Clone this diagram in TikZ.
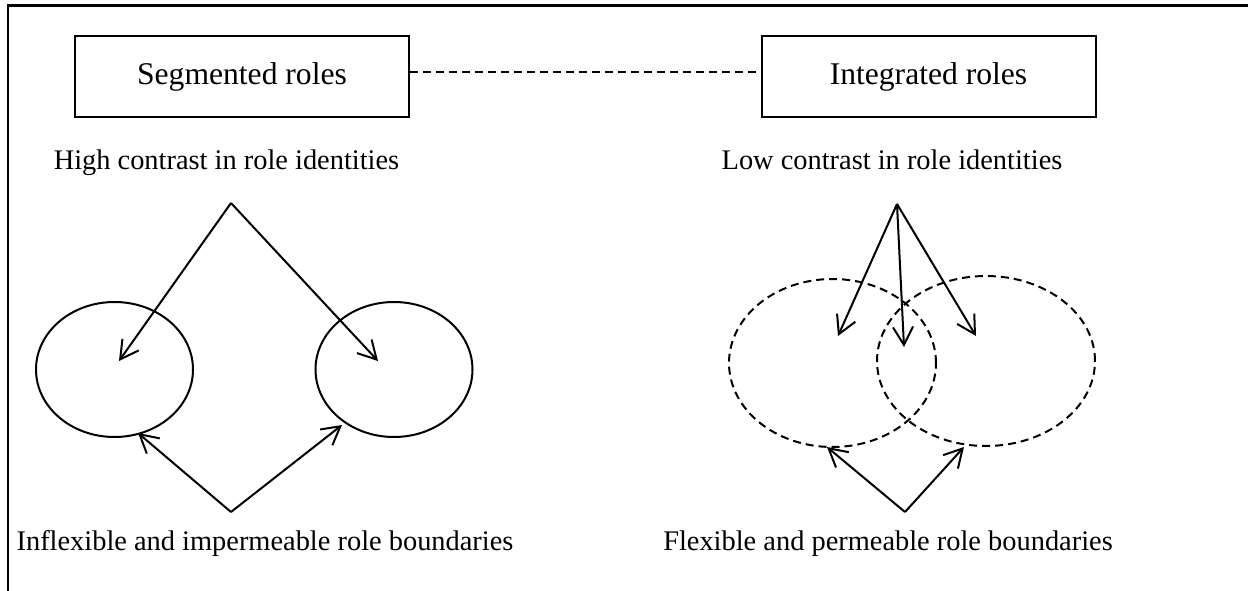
\documentclass[tikz,border=0pt]{standalone}
\usepackage{fontspec}
\setmainfont{Liberation Serif}
\usetikzlibrary{arrows.meta,shapes.geometric}
\begin{document}
\begin{tikzpicture}[x=1pt,y=-1pt,line width=2pt,
  boxtxt/.style={font=\fontsize{31.6}{38}\selectfont},
  captxt/.style={font=\fontsize{28.4}{34}\selectfont},
  rolebox/.style={draw, rectangle, minimum width=334pt, minimum height=81pt, inner sep=0pt, boxtxt},
  caption/.style={anchor=base, inner sep=0pt, captxt},
  solidring/.style={draw, ellipse, inner sep=0pt},
  dashring/.style={draw, ellipse, inner sep=0pt, dash pattern=on 8pt off 5pt},
  link/.style={dash pattern=on 8pt off 5pt},
  pointer/.style={-{Straight Barb[length=18pt,width=20pt]}}]
\useasboundingbox (0,0) rectangle (1248,591);

% open frame: top and left edges only
\draw[line width=3pt] (6.5,5.5) -- (1248,5.5);
\draw (7.5,5.5) -- (7.5,591);

% the two role types
\node[rolebox] (seg) at (242,76.5) {Segmented roles};
\node[rolebox] (int) at (928.5,76.5) {Integrated roles};
\draw[link] ([yshift=4.5pt]seg.east) -- ([yshift=4.5pt]int.west);

% captions
\node[caption] (segid) at (226.5,170) {High contrast in role identities};
\node[caption] (intid) at (892,170) {Low contrast in role identities};
\node[caption] (segbd) at (265,550) {Inflexible and impermeable role boundaries};
\node[caption] (intbd) at (888,550) {Flexible and permeable role boundaries};

% segmented: two separate roles
\node[solidring, minimum width=157pt, minimum height=135pt] (sa) at (114.5,369.5) {};
\node[solidring, minimum width=157pt, minimum height=135pt] (sb) at (394,369.5) {};
\coordinate (stop) at (231,203);
\coordinate (sta) at (119,361);
\coordinate (stb) at (378,361);
\coordinate (sbot) at (231,512);
\coordinate (sba) at (138,433);
\coordinate (sbb) at (342,425);
\draw[pointer] (stop) -- (sta);
\draw[pointer] (stop) -- (stb);
\draw[pointer] (sbot) -- (sba);
\draw[pointer] (sbot) -- (sbb);

% integrated: two overlapping roles
\node[dashring, minimum width=207pt, minimum height=168pt] (ia) at (832.5,363) {};
\node[dashring, minimum width=218pt, minimum height=170pt] (ib) at (986,361) {};
\coordinate (itop) at (897,204);
\coordinate (ita) at (838,336);
\coordinate (itm) at (904,347);
\coordinate (itb) at (976,336);
\coordinate (ibot) at (905,512);
\coordinate (iba) at (827,447);
\coordinate (ibb) at (964,447);
\draw[pointer] (itop) -- (ita);
\draw[pointer] (itop) -- (itm);
\draw[pointer] (itop) -- (itb);
\draw[pointer] (ibot) -- (iba);
\draw[pointer] (ibot) -- (ibb);
\end{tikzpicture}
\end{document}
